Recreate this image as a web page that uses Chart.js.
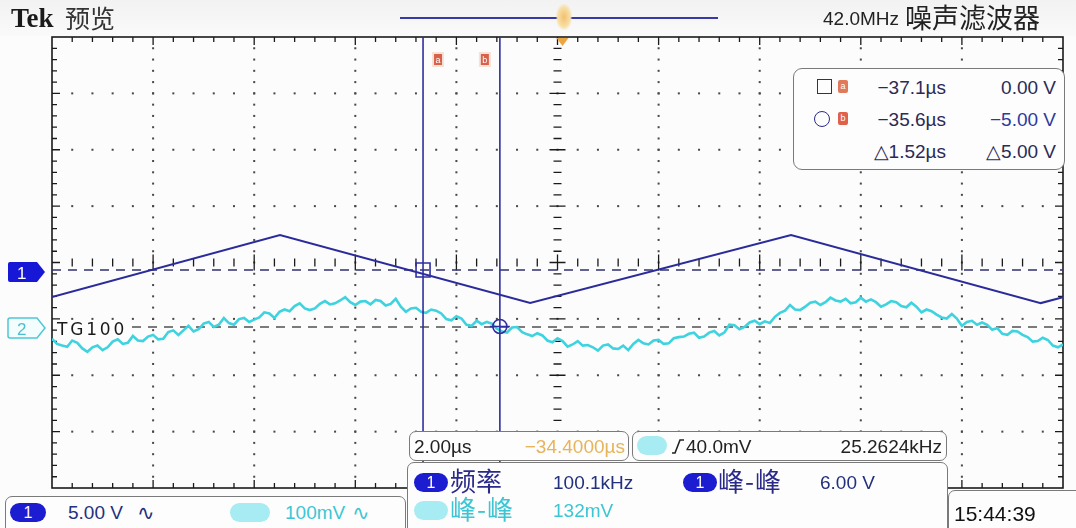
<!DOCTYPE html>
<html>
<head>
<meta charset="utf-8">
<script src="https://cdn.jsdelivr.net/npm/chart.js@4.4.1/dist/chart.umd.min.js"></script>
<style>
body{margin:0;width:1076px;height:528px;position:relative;overflow:hidden;background:#fcfcfc;font-family:"Liberation Sans",sans-serif;color:#222;}
#scope{position:absolute;left:0;top:0;}
.t{position:absolute;white-space:nowrap;line-height:1;font-size:19px;}
.r{text-align:right;}
.cjk{font-family:"Noto Sans CJK SC",sans-serif;}
.box{position:absolute;border:1.5px solid #7a7a7a;border-radius:7px;background:#fdfdfd;box-sizing:border-box;}
.pill{position:absolute;background:#1c1cd0;color:#fff;border-radius:10px;text-align:center;font-size:16px;line-height:19px;height:19px;}
.cpill{position:absolute;background:#a6ecf2;border-radius:10px;height:19px;}
.tag{position:absolute;width:10px;height:13px;border-radius:2px;background:#e07a5a;color:#fff;font-size:9px;line-height:12px;text-align:center;}
.navy{color:#23307e;}
.cyan{color:#3cc6d4;}
</style>
</head>
<body>
<div style="position:absolute;left:0;top:0;width:1076px;height:36px;background:linear-gradient(#f2f2f2,#fafafa);"></div>
<canvas id="scope" width="1076" height="528"></canvas>

<!-- top bar -->
<div class="t" style="left:11px;top:3px;font:bold 27px 'Liberation Serif',serif;color:#1a1a1a;">Tek</div>
<div class="t cjk" style="left:65px;top:5px;font-size:25px;color:#333;">预览</div>
<div style="position:absolute;left:400px;top:17px;width:318px;height:2px;background:#3a3aa6;"></div>
<div style="position:absolute;left:556px;top:4px;width:16px;height:26px;border-radius:6px;background:radial-gradient(#f2c070,#f8e0a8 55%,rgba(255,245,220,0) 75%);"></div>
<div class="t" style="left:823px;top:9px;font-size:19px;color:#222;">42.0MHz</div>
<div class="t cjk" style="left:905px;top:3px;font-size:27px;color:#222;">噪声滤波器</div>

<!-- channel markers -->
<svg style="position:absolute;left:7px;top:260px;" width="42" height="24">
  <path d="M3,2 H30 L38,12 L30,22 H3 Q1,22 1,20 V4 Q1,2 3,2 Z" fill="#1717d6"/>
  <text x="10" y="19" font-family="Liberation Sans" font-size="17" fill="#fff">1</text>
</svg>
<svg style="position:absolute;left:7px;top:316px;" width="42" height="24">
  <path d="M3,2 H30 L38,12 L30,22 H3 Q1,22 1,20 V4 Q1,2 3,2 Z" fill="#f4fdfe" stroke="#4cc8d6" stroke-width="1.5"/>
  <text x="10" y="19" font-family="Liberation Sans" font-size="17" fill="#4cc0d0">2</text>
</svg>
<div class="t" style="left:57px;top:319px;font:17px 'DejaVu Sans',sans-serif;letter-spacing:2.8px;color:#1a1a1a;">TG100</div>

<!-- cursor readout -->
<div class="box" style="left:793px;top:68px;width:272px;height:102px;border-radius:9px;"></div>
<div style="position:absolute;left:817px;top:79px;width:13px;height:13px;border:1.6px solid #2a2a90;"></div>
<div class="tag" style="left:838px;top:80px;">a</div>
<div class="t r" style="left:846px;top:78px;width:100px;color:#2a2a55;">−37.1µs</div>
<div class="t r" style="left:956px;top:78px;width:100px;color:#2a2a55;">0.00 V</div>
<div style="position:absolute;left:814px;top:111px;width:14px;height:14px;border-radius:50%;border:1.6px solid #2a2a90;"></div>
<div class="tag" style="left:838px;top:112px;background:#e0604a;">b</div>
<div class="t r" style="left:846px;top:110px;width:100px;color:#2a2a55;">−35.6µs</div>
<div class="t r" style="left:956px;top:110px;width:100px;color:#2d3a9e;">−5.00 V</div>
<div class="t r" style="left:846px;top:142px;width:100px;color:#2a2a55;">△1.52µs</div>
<div class="t r" style="left:956px;top:142px;width:100px;color:#2a2a55;">△5.00 V</div>

<!-- timebase / trigger -->
<div class="box" style="left:409px;top:431px;width:220px;height:30px;"></div>
<div class="t" style="left:414px;top:437px;color:#222;">2.00µs</div>
<div class="t r" style="left:495px;top:437px;width:130px;color:#e6b45a;">−34.4000µs</div>
<div class="box" style="left:632px;top:431px;width:315px;height:30px;"></div>
<div class="cpill" style="left:637px;top:436px;width:30px;"></div>
<svg style="position:absolute;left:670px;top:437px;" width="16" height="20"><polyline points="2,16 5,16 10,3 14,3" fill="none" stroke="#222" stroke-width="1.6"/></svg>
<div class="t" style="left:686px;top:437px;color:#222;">40.0mV</div>
<div class="t r" style="left:790px;top:437px;width:152px;color:#222;">25.2624kHz</div>

<!-- measurements -->
<div class="box" style="left:407px;top:462px;width:541px;height:80px;"></div>
<div class="pill" style="left:414px;top:473px;width:34px;">1</div>
<div class="t cjk" style="left:450px;top:467px;font-size:26px;color:#2a2a8a;">频率</div>
<div class="t navy" style="left:553px;top:473px;">100.1kHz</div>
<div class="pill" style="left:683px;top:473px;width:34px;">1</div>
<div class="t cjk" style="left:718px;top:467px;font-size:26px;letter-spacing:1px;color:#2a2a8a;">峰-峰</div>
<div class="t navy" style="left:820px;top:473px;">6.00 V</div>
<div class="cpill" style="left:414px;top:501px;width:34px;"></div>
<div class="t cjk cyan" style="left:450px;top:495px;font-size:26px;letter-spacing:1px;">峰-峰</div>
<div class="t cyan" style="left:553px;top:501px;">132mV</div>

<!-- bottom left -->
<div class="box" style="left:5px;top:496px;width:401px;height:44px;"></div>
<div class="pill" style="left:10px;top:503px;width:36px;">1</div>
<div class="t navy" style="left:68px;top:503px;">5.00 V</div>
<div class="t navy" style="left:137px;top:501px;font:21px 'DejaVu Sans',sans-serif;">∿</div>
<div class="cpill" style="left:230px;top:503px;width:40px;"></div>
<div class="t cyan" style="left:285px;top:503px;">100mV</div>
<div class="t cyan" style="left:352px;top:501px;font:21px 'DejaVu Sans',sans-serif;">∿</div>

<!-- clock -->
<div class="box" style="left:948px;top:490px;width:140px;height:50px;"></div>
<div class="t" style="left:954px;top:503px;font-size:21px;color:#111;">15:44:39</div>

<script>
// horizontal: 2.00 us/div, 10 div, centre at -34.4 us
const X_MIN = -44.44;
const X_MAX = -24.44;
const US_PER_DIV = 2;

// CH1, 5 V/div, triangle corners (us, V)
const ch1Times = [-44.44, -39.93, -34.98, -29.82, -24.88, -24.44];
const ch1Volts = [-2.39, 3.10, -2.93, 3.10, -2.93, -2.41];

// CH2, 100 mV/div, samples every 0.1 us starting at X_MIN (mV)
const ch2StartUs = -44.44;
const ch2StepUs = 0.1;
const ch2MilliVolts = [
  -21, -30, -33, -35, -24, -28, -38, -44, -36, -33,
  -41, -36, -26, -22, -30, -28, -16, -24, -25, -17,
  -14, -22, -21, -9, -6, -14, -6, 2, -8, -4,
  6, 9, 0, 4, 16, 7, 4, 14, 16, 9,
  13, 17, 26, 24, 16, 27, 31, 28, 37, 42,
  33, 30, 33, 41, 46, 40, 42, 47, 53, 44,
  39, 45, 46, 40, 48, 46, 38, 41, 50, 36,
  27, 33, 34, 27, 25, 31, 29, 24, 14, 12,
  19, 15, 4, 2, 11, 5, 9, 6, -3, -8,
  -10, -1, 0, -9, -13, -16, -11, -15, -24, -27,
  -20, -25, -35, -31, -25, -33, -32, -36, -42, -33,
  -31, -38, -39, -33, -41, -30, -23, -29, -31, -24,
  -23, -30, -29, -20, -18, -17, -12, -10, -19, -17,
  -10, -7, -15, -10, 4, 3, -4, 0, 8, 11,
  5, 10, 7, 18, 25, 29, 39, 31, 30, 36,
  43, 45, 39, 44, 52, 47, 45, 50, 42, 44,
  52, 45, 49, 44, 36, 40, 46, 44, 37, 35,
  43, 36, 26, 31, 28, 22, 17, 15, 23, 15,
  2, 9, 11, 4, 8, 4, -5, -2, -12, -14,
  -7, -8, -14, -18, -26, -25, -19, -23, -33, -36,
  -31
];

// cursors a / b (us) and their level on CH1 scale (V)
const cursorTimes = [-37.1, -35.58];
const cursorLevels = [0.0, -5.0];

const ch1Points = ch1Times.map((t, i) => ({ x: t, y: ch1Volts[i] }));
const ch2Points = ch2MilliVolts.map((v, i) => ({ x: ch2StartUs + i * ch2StepUs, y: v }));

const graticule = {
  id: "graticule",
  beforeDatasetsDraw(chart) {
    const { ctx, chartArea: a, scales } = chart;
    const xs = scales.x, yd = scales.yDiv;
    const xAt = d => xs.getPixelForValue(X_MIN + d * US_PER_DIV);
    const yAt = d => yd.getPixelForValue(4 - d);
    ctx.save();
    ctx.fillStyle = "#484848";
    // dotted division lines
    for (let k = 1; k < 10; k++) {
      if (k === 5) continue;
      const px = xAt(k);
      for (let m = 1; m < 40; m++) ctx.fillRect(px - 1, yAt(m * 0.2) - 1, 2, 2);
    }
    for (let j = 1; j < 8; j++) {
      if (j === 4) continue;
      const py = yAt(j);
      for (let m = 1; m < 50; m++) ctx.fillRect(xAt(m * 0.2) - 1, py - 1, 2, 2);
    }
    ctx.strokeStyle = "#1a1a1a";
    ctx.lineWidth = 1.3;
    ctx.beginPath();
    // centre cross ticks
    const cx = xAt(5), cy = yAt(4);
    for (let m = 1; m < 50; m++) {
      const px = xAt(m * 0.2);
      const h = m % 5 === 0 ? 8 : 4;
      ctx.moveTo(px, cy - h); ctx.lineTo(px, cy + h);
    }
    for (let m = 1; m < 40; m++) {
      const py = yAt(m * 0.2);
      const w = m % 5 === 0 ? 8 : 4;
      ctx.moveTo(cx - w, py); ctx.lineTo(cx + w, py);
    }
    // edge ticks
    for (let m = 1; m < 50; m++) {
      const px = xAt(m * 0.2);
      const h = m % 5 === 0 ? 8 : 5;
      ctx.moveTo(px, a.top); ctx.lineTo(px, a.top + h);
      ctx.moveTo(px, a.bottom); ctx.lineTo(px, a.bottom - h);
    }
    for (let m = 1; m < 40; m++) {
      const py = yAt(m * 0.2);
      const w = m % 5 === 0 ? 8 : 5;
      ctx.moveTo(a.left, py); ctx.lineTo(a.left + w, py);
      ctx.moveTo(a.right, py); ctx.lineTo(a.right - w, py);
    }
    ctx.stroke();
    ctx.lineWidth = 1.6;
    ctx.strokeRect(a.left, a.top, a.right - a.left, a.bottom - a.top);
    // channel reference levels
    ctx.setLineDash([9, 7]);
    ctx.lineWidth = 1.4;
    ctx.strokeStyle = "#30306e";
    const y1 = scales.yCh1.getPixelForValue(0);
    ctx.beginPath(); ctx.moveTo(a.left, y1); ctx.lineTo(a.right, y1); ctx.stroke();
    ctx.strokeStyle = "#505050";
    const y2 = scales.yCh2.getPixelForValue(0);
    ctx.beginPath(); ctx.moveTo(a.left + 80, y2); ctx.lineTo(a.right, y2); ctx.stroke();
    ctx.setLineDash([]);
    // trigger marker
    ctx.fillStyle = "#eba640";
    ctx.beginPath(); ctx.moveTo(cx - 1, a.top + 1); ctx.lineTo(cx + 11, a.top + 1); ctx.lineTo(cx + 5, a.top + 9); ctx.fill();
    ctx.restore();
  },
  afterDatasetsDraw(chart) {
    const { ctx, chartArea: a, scales } = chart;
    ctx.save();
    ctx.strokeStyle = "#2e2ea0";
    ctx.lineWidth = 1.6;
    cursorTimes.forEach((t, i) => {
      const px = scales.x.getPixelForValue(t);
      ctx.beginPath(); ctx.moveTo(px, a.top); ctx.lineTo(px, a.bottom); ctx.stroke();
      const py = scales.yCh1.getPixelForValue(cursorLevels[i]);
      ctx.beginPath();
      if (i === 0) {
        ctx.rect(px - 7, py - 7, 14, 14);
      } else {
        ctx.arc(px, py, 7, 0, Math.PI * 2);
        ctx.moveTo(px - 10, py); ctx.lineTo(px + 10, py);
      }
      ctx.stroke();
      // cursor tags
      const tx = i === 0 ? px + 10 : px - 20;
      ctx.fillStyle = "#f7e2d8";
      ctx.fillRect(tx - 1, 52, 12, 15);
      ctx.fillStyle = "#d9604a";
      ctx.fillRect(tx + 1, 54, 8, 11);
      ctx.fillStyle = "#fff";
      ctx.font = "9px 'Liberation Sans'";
      ctx.fillText(i === 0 ? "a" : "b", tx + 2.5, 63);
    });
    ctx.restore();
  }
};

new Chart(document.getElementById("scope"), {
  type: "line",
  data: {
    datasets: [
      { label: "CH2", data: ch2Points, yAxisID: "yCh2", borderColor: "#3ed3df", borderWidth: 2.6, pointRadius: 0, tension: 0 },
      { label: "CH1", data: ch1Points, yAxisID: "yCh1", borderColor: "#2b2b9c", borderWidth: 2, pointRadius: 0, tension: 0 }
    ]
  },
  options: {
    responsive: false,
    animation: false,
    layout: { padding: { left: 52, right: 13, top: 37, bottom: 40 } },
    scales: {
      x: { type: "linear", min: X_MIN, max: X_MAX, display: false },
      yCh1: { type: "linear", axis: "y", min: -19.33, max: 20.67, display: false },
      yCh2: { type: "linear", axis: "y", min: -285.6, max: 514.4, display: false },
      yDiv: { type: "linear", axis: "y", min: -4, max: 4, display: false }
    },
    plugins: { legend: { display: false }, tooltip: { enabled: false } }
  },
  plugins: [graticule]
});
</script>
</body>
</html>
